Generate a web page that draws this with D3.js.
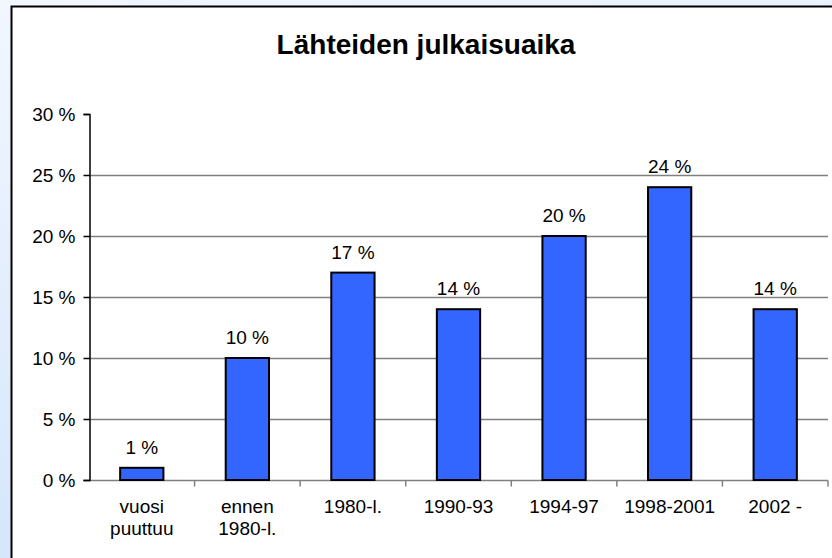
<!DOCTYPE html>
<html>
<head>
<meta charset="utf-8">
<script src="https://cdn.jsdelivr.net/npm/d3@7"></script>
<style>
  body { margin: 0; }
  svg { display: block; font-family: "Liberation Sans", Arial, sans-serif; }
</style>
</head>
<body>
<svg id="chart"></svg>
<script>
const categories = ['vuosi\npuuttuu', 'ennen\n1980-l.', '1980-l.', '1990-93', '1994-97', '1998-2001', '2002 -'];
const values = [1, 10, 17, 14, 20, 24, 14];
const yTicks = [0, 5, 10, 15, 20, 25, 30];
const title = 'Lähteiden julkaisuaika';

var width = 832,
    height = 558,
    margin = {left: 89, right: 4, top: 114, bottom: 78},
    barColor = '#3366FF',
    gridColor = '#808080',
    fontSize = '19px';

var svg = d3.select('#chart')
    .attr('width', width)
    .attr('height', height);

// background gradient
var defs = svg.append('defs');
var grad = defs.append('linearGradient')
    .attr('id', 'bg')
    .attr('x1', 0).attr('y1', 0).attr('x2', 0.3).attr('y2', 1);
grad.append('stop').attr('offset', '0%').attr('stop-color', '#f2f7fe');
grad.append('stop').attr('offset', '100%').attr('stop-color', '#d3e5fb');

svg.append('rect')
    .attr('width', width).attr('height', height)
    .attr('fill', 'url(#bg)');

// chart panel
svg.append('rect')
    .attr('x', 11.5).attr('y', 6.5)
    .attr('width', width + 20).attr('height', height + 20)
    .attr('fill', '#fff')
    .attr('stroke', '#000')
    .attr('stroke-width', 2);

svg.append('text')
    .attr('x', 426)
    .attr('y', 54)
    .attr('text-anchor', 'middle')
    .attr('font-size', '28px')
    .attr('font-weight', 'bold')
    .text(title);

var x = d3.scaleBand()
    .domain(categories)
    .range([margin.left, width - margin.right])
    .paddingInner(0.59)
    .paddingOuter(0.295);

var y = d3.scaleLinear()
    .domain([0, 30])
    .range([height - margin.bottom, margin.top]);

var g = svg.append('g');

// gridlines
g.selectAll('.grid')
    .data(yTicks.filter(d => d > 0 && d < 30))
    .enter().append('line')
    .attr('x1', margin.left).attr('x2', width - margin.right)
    .attr('y1', d => Math.round(y(d)) + 0.5)
    .attr('y2', d => Math.round(y(d)) + 0.5)
    .attr('stroke', gridColor)
    .attr('stroke-width', 1.5);

// x axis
var xAxis = g.append('g')
    .attr('transform', 'translate(0,' + (Math.round(y(0)) + 0.5) + ')');
xAxis.append('line')
    .attr('x1', margin.left).attr('x2', width - margin.right)
    .attr('stroke', gridColor).attr('stroke-width', 1.5);
var bounds = categories.map(c => x(c) - x.step() * x.paddingInner() / 2);
bounds.push(width - margin.right);
xAxis.selectAll('.xtick')
    .data(bounds.slice(1))
    .enter().append('line')
    .attr('x1', d => d).attr('x2', d => d)
    .attr('y1', 0).attr('y2', 6)
    .attr('stroke', gridColor).attr('stroke-width', 1.5);

// category labels
var labels = g.selectAll('.xlabel')
    .data(categories)
    .enter().append('text')
    .attr('text-anchor', 'middle')
    .attr('font-size', fontSize)
    .attr('fill', '#000');
labels.each(function (d) {
    var t = d3.select(this);
    d.split('\n').forEach(function (line, i) {
        t.append('tspan')
            .attr('x', x(d) + x.bandwidth() / 2)
            .attr('y', 513 + i * 22)
            .text(line);
    });
});

// y axis
var yAxis = g.append('g')
    .attr('transform', 'translate(' + (margin.left + 0.5) + ',0)')
    .call(d3.axisLeft(y).tickValues(yTicks).tickSize(6).tickPadding(8)
        .tickFormat(d => d + ' %'));
yAxis.select('.domain').attr('stroke-width', 1.5);
yAxis.selectAll('.tick line').attr('stroke-width', 1.5);
yAxis.selectAll('text')
    .attr('font-size', fontSize)
    .attr('font-family', '"Liberation Sans", Arial, sans-serif')
    .attr('fill', '#000');

// bars
g.selectAll('.bar')
    .data(values)
    .enter().append('rect')
    .attr('x', (d, i) => x(categories[i]))
    .attr('y', d => y(d))
    .attr('width', x.bandwidth())
    .attr('height', d => y(0) - y(d))
    .attr('fill', barColor)
    .attr('stroke', '#000')
    .attr('stroke-width', 2);

// value labels
g.selectAll('.vlabel')
    .data(values)
    .enter().append('text')
    .attr('x', (d, i) => x(categories[i]) + x.bandwidth() / 2)
    .attr('y', d => y(d) - 14)
    .attr('text-anchor', 'middle')
    .attr('font-size', fontSize)
    .attr('fill', '#000')
    .text(d => d + ' %');
</script>
</body>
</html>
